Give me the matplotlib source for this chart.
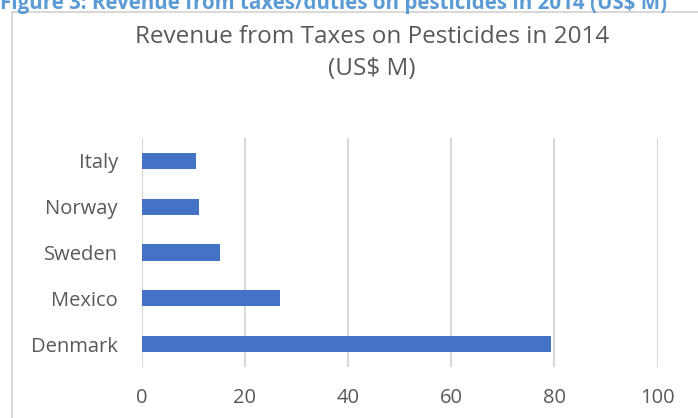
import matplotlib.pyplot as plt
from matplotlib.patches import Rectangle

# revenue from pesticide taxes, 2014 (US$ millions)
countries = ["Denmark", "Mexico", "Sweden", "Norway", "Italy"]
revenue = [79.3, 26.9, 15.2, 11.2, 10.5]
xticks = [0, 20, 40, 60, 80, 100]

plt.rcParams['font.family'] = ['Open Sans', 'DejaVu Sans']
text_grey = '#595959'
grid_grey = '#d9d9d9'

fig = plt.figure(figsize=(6.98, 4.18), dpi=100)

# chart frame, runs off the right and bottom edge
fig.patches.append(Rectangle((12 / 698, -0.1), 1.0, 1.1 - 12.5 / 418,
                             transform=fig.transFigure, fill=False,
                             edgecolor=grid_grey, linewidth=1.5, zorder=0))

# caption above the frame, top half cut off
fig.text(0.0, 1 - 8.5 / 418, "Figure 3: Revenue from taxes/duties on pesticides in 2014 (US$ M)",
         color='#5b9bd5', fontsize=14.8, fontweight='bold', ha='left', va='baseline')

ax = fig.add_axes([141.5 / 698, 1 - 367 / 418, 516 / 698, 229 / 418])
ax.barh(range(len(countries)), revenue, height=0.35, color='#4472c4', zorder=3)
ax.set_ylim(-0.5, len(countries) - 0.5)
ax.set_xlim(0, 100)
ax.set_xticks(xticks)
ax.set_yticks(range(len(countries)))
ax.set_yticklabels(countries)
ax.grid(axis='x', color=grid_grey, linewidth=1.5)
ax.set_axisbelow(True)
for s in ax.spines.values():
    s.set_visible(False)
ax.tick_params(axis='both', length=0, labelsize=14.5, labelcolor=text_grey)
ax.tick_params(axis='x', pad=15)
ax.tick_params(axis='y', pad=17)

fig.text(372 / 698, 1 - 53 / 418, "Revenue from Taxes on Pesticides in 2014\n(US$ M)",
         ha='center', va='center', fontsize=17.5, color=text_grey,
         linespacing=1.45)

fig.savefig('out.png', dpi=100)
